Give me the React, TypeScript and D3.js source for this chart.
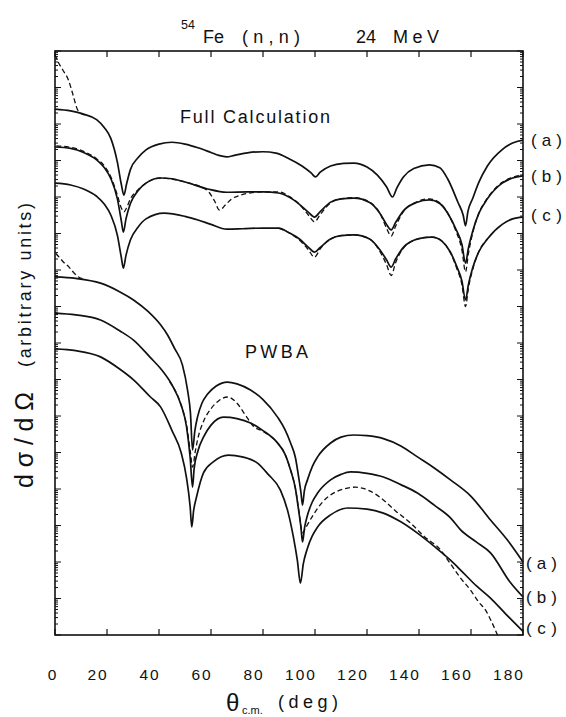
import React from 'react';
import * as d3 from 'd3';

// angle (deg), log10 of dσ/dΩ in arbitrary units
const fullA: [number, number][] = [
  [0, 14.41], [6, 14.36], [11, 14.27], [16, 14.12], [19, 13.9], [21.5, 13.6], [24, 12.95], [25.5, 12.35],
  [26.5, 12.05], [27.5, 12.35], [29, 12.75], [32, 13.08], [35, 13.29], [40, 13.45], [45, 13.5], [50, 13.45],
  [55, 13.35], [60, 13.22], [63, 13.14], [66, 13.1], [69, 13.14], [74, 13.21], [80, 13.24], [85, 13.2],
  [90, 13.05], [95, 12.85], [98.5, 12.66], [100.2, 12.55], [102, 12.68], [106, 12.85], [111, 12.92], [115, 12.93],
  [120, 12.82], [124, 12.6], [127.5, 12.28], [129.8, 12.0], [131.5, 12.25], [134, 12.55], [138, 12.78], [144, 12.88],
  [148, 12.8], [151, 12.5], [155, 11.85], [157, 11.5], [157.9, 11.21], [158.8, 11.6], [160.6, 11.95], [163, 12.4],
  [166.3, 12.85], [172, 13.3], [176, 13.48], [180, 13.56],
];
const fullB: [number, number][] = [
  [0, 13.37], [6, 13.33], [11, 13.22], [16, 13.02], [19, 12.8], [21.5, 12.5], [24, 11.95], [25.5, 11.35],
  [26.3, 11.04], [27.3, 11.4], [29, 11.82], [32, 12.18], [35, 12.38], [40.6, 12.52], [45, 12.5], [50, 12.41],
  [58.7, 12.22], [66, 12.13], [74, 12.14], [80, 12.14], [86, 12.11], [90, 12.0], [94, 11.8], [97.5, 11.58],
  [99.8, 11.45], [102, 11.6], [106, 11.86], [110, 11.95], [115, 11.97], [121, 11.85], [125, 11.55], [127.5, 11.25],
  [129.3, 11.1], [131, 11.3], [134, 11.62], [139, 11.85], [144, 11.92], [148, 11.82], [151.5, 11.5], [154, 11.15],
  [156.5, 10.7], [157.9, 10.19], [159, 10.6], [160.6, 11.05], [163, 11.55], [166.3, 11.95], [172, 12.38],
  [176, 12.52], [180, 12.58],
];
const fullC: [number, number][] = [
  [0, 12.38], [6, 12.33], [11, 12.22], [16, 12.02], [19, 11.8], [21.5, 11.5], [24, 10.95], [25.5, 10.35],
  [26.3, 10.05], [27.3, 10.4], [29, 10.82], [32, 11.18], [35, 11.4], [42, 11.56], [50, 11.47], [55, 11.37],
  [60, 11.25], [66, 11.12], [72, 11.13], [80, 11.15], [86, 11.15], [90, 11.02], [94, 10.85], [97.5, 10.62],
  [99.8, 10.49], [102, 10.62], [106, 10.85], [110, 10.94], [115, 10.96], [121, 10.85], [125, 10.55], [127.5, 10.28],
  [129.3, 10.08], [131, 10.3], [134, 10.62], [140, 10.86], [145, 10.9], [149, 10.78], [152, 10.5], [154.5, 10.1],
  [156.5, 9.7], [157.9, 9.18], [159, 9.6], [160.6, 10.05], [163, 10.5], [166.3, 10.85], [172, 11.25],
  [176, 11.4], [180, 11.45],
];
const fullDashTop: [number, number][] = [
  [0, 15.9], [1.2, 15.7], [3, 15.48], [5.2, 15.2], [7, 14.78], [8.5, 14.42], [10, 14.29], [12, 14.24],
];
const fullDashB: [number, number][] = [
  [0.5, 13.4], [6, 13.36], [11, 13.25], [16, 13.05], [19, 12.85], [21.5, 12.55], [24, 12.05], [25.5, 11.7],
  [26.5, 11.59], [27.5, 11.7], [29, 11.95], [32, 12.2], [35, 12.38], [40.6, 12.52], [50, 12.41], [56, 12.28],
  [59, 12.15], [61.3, 11.9], [63.3, 11.64], [65.5, 11.78], [68, 11.95], [71.3, 12.05], [76, 12.12], [80, 12.14],
  [86, 12.14], [90, 12.02], [94, 11.8], [97.5, 11.5], [99.8, 11.32], [102, 11.52], [106, 11.84], [110, 11.95],
  [115, 11.98], [121, 11.86], [125, 11.55], [127.5, 11.15], [129.3, 10.93], [131, 11.2], [134, 11.6], [139, 11.86],
  [144, 11.95], [148, 11.84], [151.5, 11.5], [154, 11.1], [156.5, 10.55], [157.9, 9.95], [159, 10.45],
  [160.6, 11.0], [163, 11.55], [166.3, 11.97], [172, 12.4], [176, 12.54], [180, 12.6],
];
const fullDashC: [number, number][] = [
  [86, 11.15], [90, 11.02], [94, 10.82], [97.5, 10.55], [99.8, 10.35], [102, 10.58], [106, 10.85], [110, 10.94],
  [115, 10.96], [121, 10.85], [125, 10.5], [127.5, 10.15], [129.3, 9.85], [131, 10.2], [134, 10.6], [140, 10.86],
  [145, 10.9], [149, 10.78], [152, 10.48], [154.5, 10.05], [156.5, 9.6], [157.9, 9.0], [159, 9.5], [160.6, 10.0],
  [163, 10.5], [166.3, 10.85],
];

const pwbaA: [number, number][] = [
  [0, 9.81], [8, 9.77], [17.5, 9.64], [25, 9.4], [30.2, 9.18], [36, 8.85], [40.6, 8.5], [43.3, 8.22],
  [46, 7.85], [49, 7.4], [51, 6.7], [52.1, 6.08], [52.9, 5.07], [53.8, 5.6], [54.8, 5.97], [56.5, 6.35],
  [58.7, 6.6], [62, 6.82], [66.3, 6.93], [70, 6.88], [75.2, 6.71], [80, 6.45], [85.6, 5.97], [88.5, 5.62],
  [90.6, 5.26], [92.5, 4.85], [93.7, 4.33], [94.6, 3.9], [95.2, 3.56], [95.9, 3.95], [97.1, 4.25], [99, 4.62],
  [101, 4.88], [106, 5.26], [110, 5.42], [114.8, 5.48], [120, 5.46], [126.3, 5.38], [133, 5.18], [139.4, 4.88],
  [146, 4.57], [152.1, 4.25], [160, 3.8], [167.5, 3.15], [174, 2.6], [180, 2.0],
];
const pwbaB: [number, number][] = [
  [0, 8.82], [8, 8.77], [17.5, 8.63], [25, 8.33], [30.2, 8.08], [36.7, 7.6], [40.6, 7.3], [45, 6.85],
  [48.5, 6.3], [50.6, 5.7], [52, 4.85], [52.9, 4.05], [53.5, 4.55], [55, 5.05], [57.1, 5.42], [60, 5.75],
  [64.8, 5.97], [70, 5.93], [75.2, 5.81], [80, 5.6], [85.6, 5.26], [88.5, 4.95], [90.6, 4.52], [92.5, 4.0],
  [93.7, 3.42], [94.6, 2.95], [95.2, 2.55], [96, 2.95], [97.1, 3.28], [99, 3.65], [101, 3.89], [106, 4.25],
  [110, 4.4], [113.7, 4.47], [120, 4.43], [126.3, 4.33], [133, 4.12], [139.4, 3.89], [146, 3.55], [152.1, 3.21],
  [156, 2.88], [162, 2.55], [167.5, 2.25], [175, 1.45], [180, 1.04],
];
const pwbaC: [number, number][] = [
  [0, 7.84], [8, 7.79], [17.5, 7.62], [25, 7.28], [30.2, 6.99], [36.7, 6.52], [40.6, 6.25], [45, 5.6],
  [48.5, 5.0], [50.6, 4.3], [52, 3.5], [52.6, 2.96], [53.3, 3.4], [54.5, 3.8], [57.1, 4.44], [61, 4.75],
  [66.7, 4.93], [72, 4.88], [77.9, 4.71], [82, 4.4], [86.7, 3.97], [89.5, 3.4], [91.7, 2.68], [93.2, 2.05],
  [94.4, 1.42], [95.5, 1.95], [97.1, 2.38], [99, 2.72], [101, 2.96], [106, 3.29], [112.5, 3.48], [120, 3.45],
  [126.3, 3.34], [133, 3.1], [139.4, 2.79], [146, 2.42], [152.1, 2.05], [156, 1.78], [162, 1.35], [167.5, 1.01],
  [173.3, 0.58], [180, 0.1],
];
const pwbaDashTop: [number, number][] = [
  [0.3, 10.45], [1.5, 10.36], [3.5, 10.2], [5.4, 10.08], [7.3, 9.92], [9.2, 9.8], [11, 9.76],
];
const pwbaDash: [number, number][] = [
  [44, 6.95], [48.5, 6.3], [50.6, 5.75], [52, 5.05], [52.9, 4.6], [54, 5.05], [55, 5.4], [57.1, 5.85],
  [60, 6.2], [63, 6.42], [66.3, 6.52], [70, 6.35], [73, 6.05], [76.3, 5.72], [80, 5.58], [85.6, 5.26],
  [88.5, 4.95], [90.6, 4.52], [92.5, 4.0], [93.7, 3.45], [95.2, 2.8], [96.5, 2.95], [99.4, 3.3], [103, 3.65],
  [108, 3.92], [115.6, 4.05], [121, 3.95], [126.3, 3.7], [131, 3.4], [136.7, 3.07], [142, 2.7], [148.3, 2.33],
  [152.1, 1.95], [156, 1.56], [159.8, 1.23], [163, 0.9], [165.6, 0.68], [168, 0.35], [170.2, 0.0],
];

const xTickValues = [0, 20, 40, 60, 80, 100, 120, 140, 160, 180];
const decades = d3.range(0, 17);
const fullLabels = [
  { text: '(a)', at: 13.56 },
  { text: '(b)', at: 12.58 },
  { text: '(c)', at: 11.5 },
];
const pwbaLabels = [
  { text: '(a)', at: 1.98 },
  { text: '(b)', at: 1.03 },
  { text: '(c)', at: 0.18 },
];

const W = 566;
const H = 717;
const left = 55;
const right = 523;
const top = 51;
const bottom = 635;

const App = () => {
  const x = d3.scaleLinear().domain([0, 180]).range([left, right]);
  const y = d3.scaleLog().domain([1, 1e16]).range([bottom, top]);
  const yv = (v: number) => y(Math.pow(10, v));

  const line = d3
    .line<[number, number]>()
    .x(d => x(d[0]))
    .y(d => yv(d[1]))
    .curve(d3.curveMonotoneX);

  const solids = [fullA, fullB, fullC, pwbaA, pwbaB, pwbaC];
  const dashes = [fullDashTop, fullDashB, fullDashC, pwbaDashTop, pwbaDash];

  const yTicks: { v: number; major: boolean }[] = [];
  decades.forEach(k => {
    yTicks.push({ v: k, major: true });
    if (k < 16) d3.range(2, 10).forEach(m => yTicks.push({ v: k + Math.log10(m), major: false }));
  });

  // hand-lettered labels sit a little left of their ticks
  const labelShift = (v: number) => (v === 0 ? -2 : v < 100 ? -9 : -14);

  const font = "'Liberation Sans', Arial, Helvetica, sans-serif";

  return (
    <svg width={W} height={H} style={{ display: 'block', position: 'absolute', left: 0, top: 0, background: '#fff' }}>
      <rect x={0} y={0} width={W} height={H} fill="#fff" />

      {/* title */}
      <text x={181} y={29} fontFamily={font} fontSize={12.5} fill="#111">54</text>
      <text x={203} y={42.5} fontFamily={font} fontSize={18} fill="#111">Fe</text>
      <text x={242} y={42.5} fontFamily={font} fontSize={18} fill="#111" textLength={58} lengthAdjust="spacing">(n,n)</text>
      <text x={356} y={42.5} fontFamily={font} fontSize={18} fill="#111">24</text>
      <text x={393} y={42.5} fontFamily={font} fontSize={18} fill="#111" textLength={46} lengthAdjust="spacing">MeV</text>

      {/* frame */}
      <rect x={left} y={top} width={right - left} height={bottom - top} fill="none" stroke="#111" strokeWidth={1.6} />

      {/* x ticks */}
      {xTickValues.map(v => (
        <g key={'xt' + v}>
          <line x1={x(v)} x2={x(v)} y1={bottom} y2={bottom - 6} stroke="#111" strokeWidth={1.2} />
          <line x1={x(v)} x2={x(v)} y1={top} y2={top + 6} stroke="#111" strokeWidth={1.2} />
          <text x={x(v) + labelShift(v)} y={680} fontFamily={font} fontSize={15.5} textAnchor="middle" letterSpacing={2} fill="#111">{v}</text>
        </g>
      ))}

      {/* y ticks */}
      {yTicks.map((t, i) => {
        const len = t.major ? 6 : 3;
        const yy = yv(t.v);
        return (
          <g key={'yt' + i}>
            <line x1={left} x2={left + len} y1={yy} y2={yy} stroke="#111" strokeWidth={1} />
            <line x1={right} x2={right - len} y1={yy} y2={yy} stroke="#111" strokeWidth={1} />
          </g>
        );
      })}

      {/* curves */}
      {solids.map((s, i) => (
        <path key={'s' + i} d={line(s) || ''} fill="none" stroke="#111" strokeWidth={1.7} />
      ))}
      {dashes.map((s, i) => (
        <path key={'d' + i} d={line(s) || ''} fill="none" stroke="#111" strokeWidth={1.3} strokeDasharray="5,3" />
      ))}

      {/* group labels */}
      <text x={180} y={123} fontFamily={font} fontSize={18} fill="#111" textLength={150} lengthAdjust="spacing">Full Calculation</text>
      <text x={245} y={358} fontFamily={font} fontSize={18} fill="#111" textLength={63} lengthAdjust="spacing">PWBA</text>

      {fullLabels.map(l => (
        <text key={'fl' + l.text} x={531} y={yv(l.at) + 6} fontFamily={font} fontSize={17} fill="#111" textLength={31} lengthAdjust="spacing">{l.text}</text>
      ))}
      {pwbaLabels.map(l => (
        <text key={'pl' + l.text} x={526} y={yv(l.at) + 6} fontFamily={font} fontSize={17} fill="#111" textLength={31} lengthAdjust="spacing">{l.text}</text>
      ))}

      {/* axis titles */}
      <text x={226} y={711} fontFamily={font} fontSize={24} fill="#111">θ</text>
      <text x={242} y={714} fontFamily={font} fontSize={11} fill="#111">c.m.</text>
      <text x={278} y={708} fontFamily={font} fontSize={18} fill="#111" textLength={60} lengthAdjust="spacing">(deg)</text>

      <text transform="translate(33,488) rotate(-90)" fontFamily={font} fontSize={25} fill="#111" textLength={96} lengthAdjust="spacing">dσ/dΩ</text>
      <text transform="translate(31,367) rotate(-90)" fontFamily={font} fontSize={18} fill="#111" textLength={164} lengthAdjust="spacing">(arbitrary units)</text>
    </svg>
  );
};

export default App;
